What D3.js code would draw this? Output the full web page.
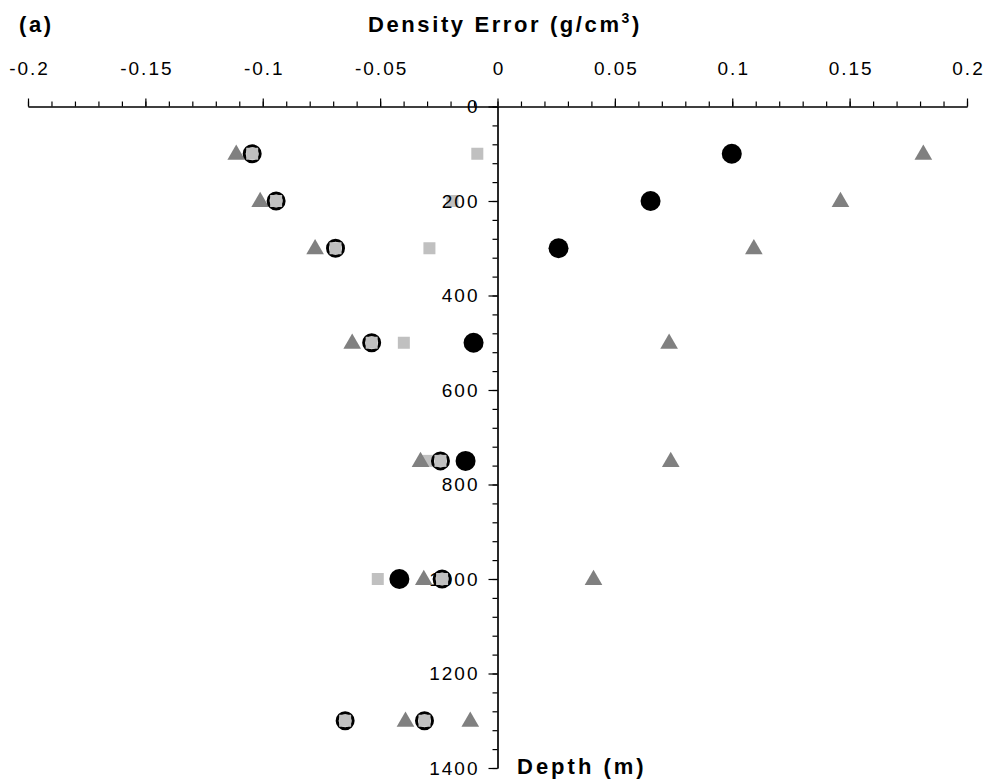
<!DOCTYPE html>
<html>
<head>
<meta charset="utf-8">
<script src="https://cdn.jsdelivr.net/npm/d3@7"></script>
<style>
  body { margin: 0; background: #fff; }
  text { font-family: "Liberation Sans", Arial, sans-serif; fill: #000; }
</style>
</head>
<body>
<svg id="chart"></svg>
<script>
// chart size
const width = 986;
const height = 784;

// depths (m) at which the errors were measured
const depths = [100, 200, 300, 500, 750, 1000, 1300];

// density errors (g/cm3) per series, null where the point is missing
const triangleLeft = [-0.1113, -0.1011, -0.0777, -0.0619, -0.0328, -0.0314, -0.0392];
const triangleRight = [0.1814, 0.1461, 0.1092, 0.0731, 0.0738, 0.0409, -0.0116];
const filledCircle = [0.0998, 0.0652, 0.0260, -0.0102, -0.0136, -0.0418, null];
const square = [-0.0086, -0.0192, -0.0290, -0.0399, -0.0298, -0.0510, null];

// ringed squares have an extra point at 1300 m
const ringDepths = [100, 200, 300, 500, 750, 1000, 1300, 1300];
const ringSquare = [-0.1045, -0.0943, -0.0690, -0.0536, -0.0243, -0.0236, -0.0311, -0.0649];

// tick values
const xMajorTicks = [-0.2, -0.15, -0.1, -0.05, 0, 0.05, 0.1, 0.15, 0.2];
const xMinorTicks = d3.range(-20, 21).map(d => d / 100);
const yMajorTicks = [0, 200, 400, 600, 800, 1000, 1200, 1400];
const yMinorTicks = d3.range(0, 1401, 40);

const svg = d3.select('#chart')
  .attr("width", width)
  .attr("height", height);

// scales
const xScale = d3.scaleLinear().domain([-0.2, 0.2]).range([28, 967]);
const yScale = d3.scaleLinear().domain([0, 1400]).range([106.5, 768]);

const pairs = (vals, ds) => vals.map((v, i) => ({ v, d: ds[i] })).filter(p => p.v !== null);

// squares sit behind the axis labels
svg.append("g").selectAll("rect")
  .data(pairs(square, depths))
  .enter().append("rect")
  .attr("x", p => xScale(p.v) - 6)
  .attr("y", p => yScale(p.d) - 6)
  .attr("width", 12)
  .attr("height", 12)
  .attr("fill", "#c0c0c0");

// x axis (on top), minor then major ticks
svg.append("g")
  .attr("transform", `translate(0,${yScale(0)})`)
  .call(d3.axisTop(xScale).tickValues(xMinorTicks).tickSize(5).tickSizeOuter(0).tickFormat(""));

const xAxis = svg.append("g")
  .attr("transform", `translate(0,${yScale(0)})`)
  .call(d3.axisTop(xScale).tickValues(xMajorTicks).tickSize(8).tickSizeOuter(0)
    .tickPadding(23.5).tickFormat(d => String(+d.toFixed(2))));
xAxis.selectAll("text")
  .attr("font-size", "19px")
  .attr("letter-spacing", "2px")
  .attr("dx", "1px");

// y axis at zero error
svg.append("g")
  .attr("transform", `translate(${xScale(0)},0)`)
  .call(d3.axisLeft(yScale).tickValues(yMinorTicks).tickSize(5).tickSizeOuter(0).tickFormat(""));

const yAxis = svg.append("g")
  .attr("transform", `translate(${xScale(0)},0)`)
  .call(d3.axisLeft(yScale).tickValues(yMajorTicks).tickSize(9).tickSizeOuter(0)
    .tickPadding(9).tickFormat(d => String(d)));
yAxis.selectAll("text")
  .attr("font-size", "19px")
  .attr("letter-spacing", "2px");

svg.selectAll(".domain, .tick line")
  .attr("stroke", "#000")
  .attr("stroke-width", 1.2);

// titles
const title = svg.append("text")
  .attr("x", 368)
  .attr("y", 32)
  .attr("font-size", "22px")
  .attr("font-weight", "bold")
  .attr("letter-spacing", "2.6px");
title.append("tspan").text("Density Error (g/cm");
title.append("tspan").attr("font-size", "14px").attr("dy", "-9").text("3");
title.append("tspan").attr("dy", "9").text(")");

svg.append("text")
  .attr("x", 19)
  .attr("y", 32)
  .attr("font-size", "22px")
  .attr("font-weight", "bold")
  .attr("letter-spacing", "2.6px")
  .text("(a)");

svg.append("text")
  .attr("x", 517)
  .attr("y", 774)
  .attr("font-size", "22px")
  .attr("font-weight", "bold")
  .attr("letter-spacing", "3px")
  .text("Depth (m)");

// triangles
const triangle = d3.symbol().type(d3.symbolTriangle).size(135);
svg.append("g").selectAll("path")
  .data(pairs(triangleLeft, depths).concat(pairs(triangleRight, depths)))
  .enter().append("path")
  .attr("d", triangle)
  .attr("transform", p => `translate(${xScale(p.v)},${yScale(p.d) + 1})`)
  .attr("fill", "#808080");

// filled circles
svg.append("g").selectAll("circle")
  .data(pairs(filledCircle, depths))
  .enter().append("circle")
  .attr("cx", p => xScale(p.v))
  .attr("cy", p => yScale(p.d))
  .attr("r", 10)
  .attr("fill", "#000");

// ringed squares
const rings = svg.append("g").selectAll("g")
  .data(pairs(ringSquare, ringDepths))
  .enter().append("g")
  .attr("transform", p => `translate(${xScale(p.v)},${yScale(p.d)})`);
rings.append("circle")
  .attr("r", 8)
  .attr("fill", "#fff")
  .attr("stroke", "#000")
  .attr("stroke-width", 3);
rings.append("rect")
  .attr("x", -6)
  .attr("y", -6)
  .attr("width", 12)
  .attr("height", 12)
  .attr("fill", "#c0c0c0");
</script>
</body>
</html>
